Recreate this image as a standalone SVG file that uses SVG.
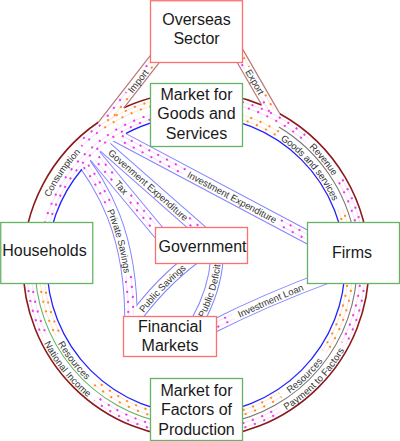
<svg xmlns="http://www.w3.org/2000/svg" width="400" height="441" viewBox="0 0 400 441">
<style>
text{font-family:"Liberation Sans",Arial,sans-serif}
.bt{font-size:16px;fill:#1a1a1a;text-anchor:middle}
.lbl{font-size:9.5px;fill:#333;text-anchor:middle;dominant-baseline:central}
.rb{fill:#fff;stroke:#ff6f6f;stroke-width:1.3}
.gb{fill:#fff;stroke:#66b366;stroke-width:1.3}
.bo{fill:none;stroke:#8484ff;stroke-width:13.5}
.bf{fill:none;stroke:#fff;stroke-width:11.5}
.ob{fill:none;stroke:#bb7777;stroke-width:1.2}
.mag{fill:none;stroke:#e83ce8;stroke-width:2;stroke-dasharray:2 8}
.magp{fill:none;stroke:#f9d0f9;stroke-width:.7}
.org{fill:none;stroke:#ff8a2a;stroke-width:2;stroke-dasharray:2 8}
.orgp{fill:none;stroke:#fddcbc;stroke-width:.7}
.mk{fill:none;stroke:#fff;stroke-width:10}
</style>
<defs>
 <path id="p-ps" d="M82 160 C100 185 132 230 131 324"/>
 <path id="p-tax" d="M91 151 L160 234"/>
 <path id="p-ge" d="M100.5 143 L205.6 235.4"/>
 <path id="p-ie" d="M113.7 134.2 L312 239.5"/>
 <path id="p-psv" d="M195 257 Q160 283 132 322"/>
 <path id="p-pd" d="M217 258 Q215 290 197 322"/>
 <path id="p-il" d="M212 327 Q265 300 330 276"/>
 <path id="t-psv" d="M132 322 Q160 283 195 257"/>
 <path id="t-pd" d="M197 322 Q215 290 217 258"/>
 <path id="cw155" d="M351 265 A155 155 0 1 1 41 265 A155 155 0 1 1 351 265"/>
 <path id="cw165" d="M361 265 A165 165 0 1 1 31 265 A165 165 0 1 1 361 265"/>
 <path id="cw167" d="M363 265 A167 167 0 1 1 29 265 A167 167 0 1 1 363 265"/>
 <path id="ccw155" d="M351 265 A155 155 0 1 0 41 265 A155 155 0 1 0 351 265"/>
 <path id="ccw167" d="M363 265 A167 167 0 1 0 29 265 A167 167 0 1 0 363 265"/>
 <mask id="mk-mi" maskUnits="userSpaceOnUse" x="0" y="0" width="400" height="441">
  <circle class="mk" cx="196" cy="265" r="155" pathLength="360" stroke-dasharray="0 195 60 105"/>
 </mask>
 <mask id="mk-mo" maskUnits="userSpaceOnUse" x="0" y="0" width="400" height="441">
  <circle class="mk" cx="196" cy="265" r="167" pathLength="360" stroke-dasharray="0 5 23 32 18 24 25 28 20 51 10 47 29 17 21 10"/>
 </mask>
 <mask id="mk-oi" maskUnits="userSpaceOnUse" x="0" y="0" width="400" height="441">
  <circle class="mk" cx="196" cy="265" r="155" pathLength="360" stroke-dasharray="0 5 29 23 21 24 29 22 22 108 19 37 11 10"/>
 </mask>
 <mask id="mk-oo" maskUnits="userSpaceOnUse" x="0" y="0" width="400" height="441">
  <circle class="mk" cx="196" cy="265" r="167" pathLength="360" stroke-dasharray="0 236 19 105"/>
 </mask>
</defs>

<g id="connectors">
 <g class="bo">
  <use href="#p-ps"/><use href="#p-tax"/><use href="#p-ge"/><use href="#p-ie"/>
  <use href="#p-psv"/><use href="#p-pd"/><use href="#p-il"/>
 </g>
 <g class="bf">
  <use href="#p-ps"/><use href="#p-tax"/><use href="#p-ge"/><use href="#p-ie"/>
  <use href="#p-psv"/><use href="#p-pd"/><use href="#p-il"/>
 </g>
 <g id="ring" fill="none">
  <circle cx="196" cy="265" r="161" stroke="#fff" stroke-width="24"/>
  <circle cx="196" cy="265" r="173" stroke="#8b1a1a" stroke-width="1.6" pathLength="360" stroke-dasharray="235.6 9.75 46.95 6.7 61"/>
  <circle cx="196" cy="265" r="149" stroke="#2222ff" stroke-width="1.3" pathLength="360" stroke-dasharray="220 22 118"/>
  <circle cx="196" cy="265" r="161" stroke="#777" stroke-width="1.1" pathLength="360" stroke-dasharray="80 221 49 10"/>
  <circle cx="196" cy="265" r="161" stroke="#66b366" stroke-width="1.1" pathLength="360" stroke-dasharray="0 100 80 180"/>
 </g>
 <g id="overseas-links" class="ob">
  <path d="M98.3 122.3 L152 53.4 M123.9 107.9 L161 60.4"/>
  <path d="M261.6 104.8 L233 55.3 M279.8 113.6 L242.6 49.1"/>
 </g>

 <g id="flows">
  <g mask="url(#mk-mi)">
   <circle class="magp" cx="196" cy="265" r="152.5"/><circle class="magp" cx="196" cy="265" r="157"/>
   <circle class="mag" cx="196" cy="265" r="152.5"/><circle class="mag" cx="196" cy="265" r="157" stroke-dashoffset="5"/>
  </g>
  <g mask="url(#mk-mo)">
   <circle class="magp" cx="196" cy="265" r="165"/><circle class="magp" cx="196" cy="265" r="169.5"/>
   <circle class="mag" cx="196" cy="265" r="165"/><circle class="mag" cx="196" cy="265" r="169.5" stroke-dashoffset="5"/>
  </g>
  <g mask="url(#mk-oi)">
   <circle class="orgp" cx="196" cy="265" r="152.5"/><circle class="orgp" cx="196" cy="265" r="157"/>
   <circle class="org" cx="196" cy="265" r="152.5"/><circle class="org" cx="196" cy="265" r="157" stroke-dashoffset="5"/>
  </g>
  <g mask="url(#mk-oo)">
   <circle class="orgp" cx="196" cy="265" r="165"/><circle class="orgp" cx="196" cy="265" r="169.5"/>
   <circle class="org" cx="196" cy="265" r="165"/><circle class="org" cx="196" cy="265" r="169.5" stroke-dashoffset="5"/>
  </g>
  <g transform="translate(91 151) rotate(50.26)">
   <path class="magp" d="M9 -2.5H36M59 -2.5H97M9 2.5H36M59 2.5H97"/>
   <path class="mag" d="M9 -2.5H36M59 -2.5H97M14 2.5H36M64 2.5H97"/>
  </g>
  <g transform="translate(100.5 143) rotate(41.32)">
   <path class="magp" d="M116 -2.5H128M116 2.5H128"/>
   <path class="mag" d="M116 -2.5H128M121 2.5H128"/>
  </g>
  <g transform="translate(113.7 134.2) rotate(27.97)">
   <path class="magp" d="M8 -2.5H80M188 -2.5H218M8 2.5H80M188 2.5H218"/>
   <path class="mag" d="M8 -2.5H80M188 -2.5H218M13 2.5H80M193 2.5H218"/>
  </g>
  <g transform="translate(106 122) rotate(-51.98)">
   <path class="magp" d="M5 -2.5H36M68 -2.5H75"/>
   <path class="mag" d="M5 -2.5H36M68 -2.5H75"/>
   <path class="orgp" d="M5 2.5H36M68 2.5H75"/>
   <path class="org" d="M10 2.5H36M70 2.5H75"/>
  </g>
  <g transform="translate(240 56) rotate(60)">
   <path class="orgp" d="M3 -2.5H14M46 -2.5H64"/>
   <path class="org" d="M3 -2.5H14M46 -2.5H64"/>
   <path class="magp" d="M5 2.5H14M46 2.5H64"/>
   <path class="mag" d="M8 2.5H14M51 2.5H64"/>
  </g>
  <path class="magp" d="M88.2 164.8 L96.3 176.4 L102.8 187.5 L109.5 200.2 L111.5 204.3 M83.8 167.2 L91.9 178.8 L98.4 189.9 L105.1 202.6 L107.1 206.7 M130.8 276 L132.9 297.3 L133.4 315 M125.8 276 L127.9 297.3 L128.4 315"/>
  <path class="mag" d="M88.2 164.8 L96.3 176.4 L102.8 187.5 L109.5 200.2 L111.5 204.3 M83.8 167.2 L91.9 178.8 L98.4 189.9 L105.1 202.6 L107.1 206.7 M130.8 276 L132.9 297.3 L133.4 315 M125.8 281 L127.9 297.3 L128.4 315"/>
  <path class="magp" d="M215.2 322.55 L232.6 314.05 M217.4 327.05 L234.8 318.55"/>
  <path class="mag" d="M215.2 322.55 L232.6 314.05 M217.4 327.05 L234.8 318.55"/>
 </g>

 <g id="labels">
  <text class="lbl"><textPath href="#cw165" startOffset="59.6%">Consumption</textPath></text>
  <text class="lbl"><textPath href="#cw167" startOffset="89%">Revenue</textPath></text>
  <text class="lbl"><textPath href="#cw155" startOffset="88.75%">Goods and services</textPath></text>
  <text class="lbl"><textPath href="#ccw155" startOffset="60.56%">Resources</textPath></text>
  <text class="lbl"><textPath href="#ccw167" startOffset="60.83%">National Income</textPath></text>
  <text class="lbl"><textPath href="#ccw155" startOffset="87.36%">Resources</textPath></text>
  <text class="lbl"><textPath href="#ccw167" startOffset="87.78%">Payment to Factors</textPath></text>
  <text class="lbl" transform="translate(138 81) rotate(-51.98)">Import</text>
  <text class="lbl" transform="translate(255 82) rotate(60)">Export</text>
  <text class="lbl" transform="translate(121.4 187.5) rotate(50.26)">Tax</text>
  <text class="lbl" transform="translate(148.3 185) rotate(41.32)">Govenment Expenditure</text>
  <text class="lbl" transform="translate(232.1 197) rotate(27.97)">Investment Expenditure</text>
  <text class="lbl"><textPath href="#p-ps" startOffset="51.7%">Private Savings</textPath></text>
  <text class="lbl"><textPath href="#t-psv" startOffset="50%">Public Savings</textPath></text>
  <text class="lbl"><textPath href="#t-pd" startOffset="50%">Public Deficit</textPath></text>
  <text class="lbl"><textPath href="#p-il" startOffset="50%">Investment Loan</textPath></text>
 </g>
</g>

<g id="overseas-sector">
 <rect class="rb" x="150.5" y="0.75" width="92" height="61.75"/>
 <text class="bt" x="196.5" y="25">Overseas</text>
 <text class="bt" x="196.5" y="44.3">Sector</text>
</g>
<g id="market-goods">
 <rect class="gb" x="150.5" y="83.5" width="92" height="63"/>
 <text class="bt" x="196.5" y="99.5">Market for</text>
 <text class="bt" x="196.5" y="119">Goods and</text>
 <text class="bt" x="196.5" y="138.5">Services</text>
</g>
<g id="households">
 <rect class="gb" x="0.75" y="222.5" width="92" height="61"/>
 <text class="bt" x="44.5" y="255.5">Households</text>
</g>
<g id="firms">
 <rect class="gb" x="307.5" y="222.5" width="92" height="61"/>
 <text class="bt" x="352" y="258">Firms</text>
</g>
<g id="government">
 <rect class="rb" x="155.5" y="227.5" width="92" height="36"/>
 <text class="bt" x="202.5" y="251.5">Government</text>
</g>
<g id="financial-markets">
 <rect class="rb" x="123.5" y="316.5" width="93" height="40"/>
 <text class="bt" x="170" y="331.5">Financial</text>
 <text class="bt" x="170" y="350.5">Markets</text>
</g>
<g id="market-factors">
 <rect class="gb" x="150.5" y="378.5" width="92" height="62"/>
 <text class="bt" x="196.5" y="396">Market for</text>
 <text class="bt" x="196.5" y="415">Factors of</text>
 <text class="bt" x="196.5" y="434.5">Production</text>
</g>
</svg>
